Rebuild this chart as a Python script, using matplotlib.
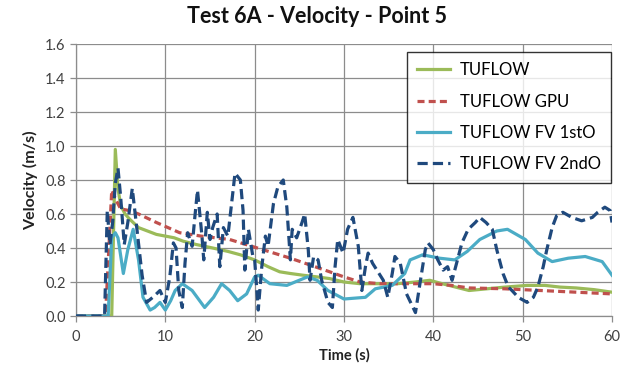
import matplotlib
matplotlib.use("Agg")
import matplotlib.pyplot as plt

# ---- data ----
t_tuflow = [0, 4.0, 4.4, 4.7, 5.0, 5.5, 6.0, 7.0, 8.0, 9.0, 10.0, 11.0, 12.0, 13.5, 15.3,
            17.0, 18.4, 20.0, 21.5, 22.8, 24.0, 25.4, 27.0, 28.4, 30.0, 31.8, 34.0, 36.0,
            38.0, 39.6, 41.0, 42.5, 44.0, 46.0, 48.0, 50.5, 52.5, 54.2, 56.0, 58.0, 60.0]
v_tuflow = [0, 0, 0.98, 0.75, 0.65, 0.60, 0.57, 0.52, 0.50, 0.48, 0.47, 0.46, 0.44, 0.42, 0.40,
            0.38, 0.36, 0.33, 0.29, 0.26, 0.25, 0.24, 0.23, 0.22, 0.20, 0.19, 0.19, 0.19,
            0.20, 0.21, 0.19, 0.17, 0.15, 0.16, 0.17, 0.18, 0.18, 0.17, 0.165, 0.155, 0.14]

t_gpu = [0, 3.3, 3.6, 4.0, 4.5, 5.0, 6.0, 7.0, 9.0, 11.6, 14.0, 17.2, 20.3, 24.0, 28.4,
         30.0, 31.8, 34.0, 36.3, 40.0, 42.0, 44.0, 48.0, 52.0, 56.0, 60.0]
v_gpu = [0, 0, 0.31, 0.74, 0.68, 0.63, 0.62, 0.60, 0.55, 0.49, 0.47, 0.45, 0.40, 0.34, 0.26,
         0.23, 0.20, 0.19, 0.19, 0.19, 0.18, 0.165, 0.16, 0.15, 0.14, 0.13]

t_fv1 = [0, 3.6, 4.0, 4.4, 4.7, 5.3, 5.8, 6.4, 7.0, 7.5, 8.3, 8.8, 9.4, 10.0, 10.6, 11.1,
         11.9, 13.0, 14.4, 15.4, 16.3, 17.2, 18.1, 19.1, 20.0, 20.4, 21.7, 23.6, 25.9, 27.0,
         28.2, 30.0, 32.4, 33.5, 35.4, 36.8, 37.4, 38.8, 40.7, 42.4, 43.8, 45.2, 47.1, 48.3,
         50.3, 51.7, 53.3, 55.1, 57.0, 58.9, 60.0]
v_fv1 = [0, 0, 0.46, 0.49, 0.46, 0.25, 0.39, 0.51, 0.33, 0.11, 0.035, 0.05, 0.08, 0.035, 0.09, 0.15,
         0.19, 0.15, 0.05, 0.11, 0.19, 0.15, 0.09, 0.13, 0.23, 0.24, 0.19, 0.18, 0.23, 0.21,
         0.15, 0.10, 0.11, 0.16, 0.18, 0.25, 0.33, 0.36, 0.34, 0.33, 0.38, 0.45, 0.50, 0.51,
         0.45, 0.37, 0.32, 0.34, 0.35, 0.32, 0.24]

t_fv2 = [0, 3.2, 3.5, 3.8, 4.1, 4.4, 4.7, 5.0, 5.4, 5.8,
         6.3, 6.8, 7.4, 7.9, 8.6, 9.4, 10.0, 10.5, 10.9, 11.2,
         11.5, 11.9, 12.2, 12.5, 13.0, 13.3, 13.6, 14.1, 14.3, 14.7,
         15.0, 15.3, 15.8, 16.1, 16.5, 17.0, 17.5, 17.8, 18.4, 18.7,
         18.9, 19.3, 19.8, 20.0, 20.4, 20.8, 21.2, 21.5, 22.1, 22.6,
         23.2, 23.6, 24.0, 24.2, 24.7, 25.3, 25.6, 26.0, 26.2, 26.6,
         27.1, 27.5, 28.2, 28.7, 29.0, 29.3, 29.9, 30.4, 31.0, 31.6,
         32.0, 32.4, 32.7, 33.2, 33.8, 34.4, 34.9, 35.4, 35.7, 36.3,
         37.0, 38.0, 38.5, 39.1, 39.4, 40.0, 40.5, 41.1, 41.6, 42.1,
         42.6, 43.2, 43.9, 44.7, 45.2, 45.9, 46.6, 47.1, 47.8, 48.4,
         48.8, 49.5, 50.5, 51.2, 51.7, 52.3, 52.7, 53.3, 53.8, 54.5,
         55.5, 56.6, 57.8, 58.4, 59.2, 59.8, 60.0]
v_fv2 = [0, 0, 0.62, 0.42, 0.55, 0.78, 0.87, 0.70, 0.42, 0.55,
         0.75, 0.52, 0.24, 0.08, 0.11, 0.15, 0.08, 0.23, 0.43, 0.40,
         0.15, 0.05, 0.31, 0.49, 0.41, 0.58, 0.74, 0.47, 0.33, 0.61,
         0.45, 0.52, 0.60, 0.29, 0.52, 0.47, 0.70, 0.84, 0.80, 0.62,
         0.27, 0.51, 0.35, 0.33, 0.035, 0.29, 0.47, 0.41, 0.66, 0.76,
         0.80, 0.64, 0.33, 0.51, 0.46, 0.55, 0.60, 0.39, 0.21, 0.35,
         0.33, 0.21, 0.08, 0.05, 0.29, 0.45, 0.37, 0.51, 0.58, 0.41,
         0.15, 0.29, 0.37, 0.31, 0.26, 0.21, 0.11, 0.25, 0.35, 0.31,
         0.13, 0.02, 0.19, 0.39, 0.43, 0.39, 0.33, 0.27, 0.29, 0.21,
         0.31, 0.43, 0.51, 0.55, 0.58, 0.55, 0.51, 0.39, 0.25, 0.17,
         0.15, 0.11, 0.08, 0.11, 0.17, 0.29, 0.39, 0.52, 0.59, 0.61,
         0.58, 0.56, 0.58, 0.61, 0.64, 0.62, 0.55]

labels = ["TUFLOW", "TUFLOW GPU", "TUFLOW FV 1stO", "TUFLOW FV 2ndO"]
x_ticks = [0, 10, 20, 30, 40, 50, 60]
y_ticks = [0.0, 0.2, 0.4, 0.6, 0.8, 1.0, 1.2, 1.4, 1.6]

plt.rcParams['font.family'] = ['Lato', 'DejaVu Sans']

fig = plt.figure(figsize=(6.34, 3.74), dpi=100)
ax = fig.add_axes([76/634, 58/374, 536/634, 272/374])

grid_c = '#8c8c8c'
ax.plot(t_tuflow, v_tuflow, color='#9BBB59', lw=2.3, label=labels[0], zorder=3)
ax.plot(t_gpu, v_gpu, color='#C0504D', lw=2.3, ls=(0, (2.2, 1.3)), label=labels[1], zorder=4)
ax.plot(t_fv1, v_fv1, color='#4BACC6', lw=2.3, label=labels[2], zorder=5)
ax.plot(t_fv2, v_fv2, color='#1F497D', lw=2.3, ls=(0, (3.2, 1.6)), label=labels[3], zorder=6)

ax.set_xlim(0, 60)
ax.set_ylim(0, 1.6)
ax.set_xticks(x_ticks)
ax.set_yticks(y_ticks)
ax.set_xticklabels([str(x) for x in x_ticks])
ax.set_yticklabels([f"{y:.1f}" for y in y_ticks])
ax.grid(True, color=grid_c, lw=0.9)
ax.set_axisbelow(True)
for s in ['top', 'right']:
    ax.spines[s].set_visible(False)
for s in ['left', 'bottom']:
    ax.spines[s].set_color(grid_c)
    ax.spines[s].set_linewidth(0.9)
ax.tick_params(axis='both', colors=grid_c, labelcolor='#404040', labelsize=10.5, length=4, width=0.9)
ax.tick_params(axis='x', pad=6)

ax.set_xlabel("Time (s)", fontsize=10.5, fontweight='bold', color='#222222', labelpad=3)
ax.set_ylabel("Velocity (m/s)", fontsize=11.5, fontweight='bold', color='#222222', labelpad=5)
fig.text(0.5, 0.955, "Test 6A - Velocity - Point 5", ha='center', va='center',
         fontsize=15.5, fontweight='bold', color='#111111')

leg = ax.legend(loc='upper right', bbox_to_anchor=(0.998, 0.971), frameon=True, fancybox=False,
                edgecolor='black', fontsize=12, handlelength=2.0, labelspacing=0.92,
                borderpad=0.62, handletextpad=0.55, borderaxespad=0)
leg.get_frame().set_linewidth(1.0)
leg.set_zorder(10)

fig.savefig("out.png", dpi=100)
